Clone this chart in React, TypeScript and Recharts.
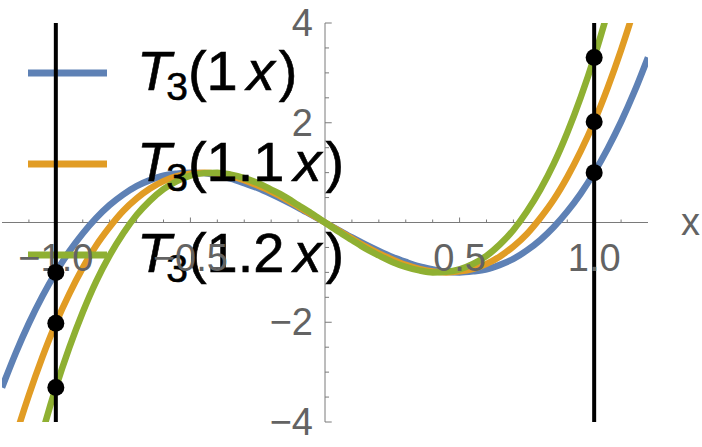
import {
  ComposedChart,
  Legend,
  Line,
  ReferenceDot,
  ReferenceLine,
  XAxis,
  YAxis,
} from "recharts";

// sample positions along x, and the three curves at those x
const X_VALUES = [
  -1.2, -1.15, -1.1, -1.05, -1.0, -0.95, -0.9, -0.85, -0.8, -0.75, -0.7, -0.65, -0.6, -0.55, -0.5,
  -0.45, -0.4, -0.35, -0.3, -0.25, -0.2, -0.15, -0.1, -0.05, 0, 0.05, 0.1, 0.15, 0.2, 0.25, 0.3,
  0.35, 0.4, 0.45, 0.5, 0.55, 0.6, 0.65, 0.7, 0.75, 0.8, 0.85, 0.9, 0.95, 1.0, 1.05, 1.1, 1.15, 1.2,
];

const T3_1X = [
  -3.31, -2.63, -2.02, -1.48, -1.0, -0.58, -0.22, 0.09, 0.35, 0.56, 0.73, 0.85, 0.94, 0.98, 1.0,
  0.99, 0.94, 0.88, 0.79, 0.69, 0.57, 0.44, 0.3, 0.15, 0, -0.15, -0.3, -0.44, -0.57, -0.69, -0.79,
  -0.88, -0.94, -0.99, -1.0, -0.98, -0.94, -0.85, -0.73, -0.56, -0.35, -0.09, 0.22, 0.58, 1.0, 1.48,
  2.02, 2.63, 3.31,
];

const T3_11X = [
  -5.24, -4.3, -3.46, -2.7, -2.02, -1.43, -0.91, -0.46, -0.09, 0.23, 0.48, 0.68, 0.83, 0.93, 0.98,
  1.0, 0.98, 0.93, 0.85, 0.74, 0.62, 0.48, 0.32, 0.16, 0, -0.16, -0.32, -0.48, -0.62, -0.74, -0.85,
  -0.93, -0.98, -1.0, -0.98, -0.93, -0.83, -0.68, -0.48, -0.23, 0.09, 0.46, 0.91, 1.43, 2.02, 2.7,
  3.46, 4.3, 5.24,
];

const T3_12X = [
  -7.62, -6.37, -5.24, -4.22, -3.31, -2.51, -1.8, -1.18, -0.66, -0.22, 0.15, 0.44, 0.67, 0.83, 0.94,
  0.99, 1.0, 0.96, 0.89, 0.79, 0.66, 0.52, 0.35, 0.18, 0, -0.18, -0.35, -0.52, -0.66, -0.79, -0.89,
  -0.96, -1.0, -0.99, -0.94, -0.83, -0.67, -0.44, -0.15, 0.22, 0.66, 1.18, 1.8, 2.51, 3.31, 4.22,
  5.24, 6.37, 7.62,
];

const SCALE_LABELS = ["1", "1.1", "1.2"];
const SERIES_KEYS = ["a", "b", "c"];
const SERIES_COLORS = ["#5E81B5", "#E19C24", "#8FB032"];

// black markers on the two vertical guide lines
const GUIDE_X = [-1, 1];
const DOTS_LEFT = [-1.0, -2.02, -3.31];
const DOTS_RIGHT = [1.0, 2.02, 3.31];

// ticks
const X_MAJOR = [-1, -0.5, 0.5, 1];
const X_MAJOR_LABELS = ["−1.0", "−0.5", "0.5", "1.0"];
const X_MINOR = [-1.1, -0.9, -0.8, -0.7, -0.6, -0.4, -0.3, -0.2, -0.1, 0.1, 0.2, 0.3, 0.4, 0.6, 0.7, 0.8, 0.9, 1.1];
const Y_MAJOR = [4, 2, -2, -4];
const Y_MAJOR_LABELS = ["4", "2", "−2", "−4"];
const Y_MINOR = [-3.5, -3, -2.5, -1.5, -1, -0.5, 0.5, 1, 1.5, 2.5, 3, 3.5];

const rows = X_VALUES.map((x, i) => ({ x, a: T3_1X[i], b: T3_11X[i], c: T3_12X[i] }));

const W = 702;
const H = 447;
const MARGIN = { top: 23, right: 54, bottom: 25, left: 2 };
const FONT = "'Liberation Sans', Arial, sans-serif";
const AXIS_GRAY = "#7a7a7a";
const LABEL_GRAY = "#636363";
const TICK_FONT = 38;

const layerStyle: React.CSSProperties = { position: "absolute", left: 0, top: 0 };

function renderLegend(props: any) {
  const payload = props.payload || [];
  return (
    <svg width={400} height={300} style={{ display: "block" }}>
      {payload.map((entry: any, i: number) => {
        const lineY = 73 + 91 * i;
        const base = 90 + 91 * i;
        return (
          <g key={i}>
            <line x1={28} x2={107} y1={lineY} y2={lineY} stroke={entry.color} strokeWidth={7} />
            <text
              x={137}
              y={base}
              fontSize={56}
              fill="#000"
              stroke="#000"
              strokeWidth={0.6}
              fontFamily={FONT}
            >
              <tspan fontStyle="italic">T</tspan>
              <tspan fontSize={39} dx={-5} dy={10}>3</tspan>
              <tspan dy={-10}>({entry.value}</tspan>
              <tspan fontStyle="italic" dx={9}>x</tspan>
              <tspan dx={4}>)</tspan>
            </text>
          </g>
        );
      })}
    </svg>
  );
}

export default function App() {
  return (
    <div style={{ position: "absolute", left: 0, top: 0, width: W, height: H, background: "#fff" }}>
      {/* bottom layer: axis lines and tick marks */}
      <div style={layerStyle}>
        <ComposedChart width={W} height={H} data={rows} margin={MARGIN}>
          <XAxis type="number" dataKey="x" domain={[-1.2, 1.2]} allowDataOverflow hide />
          <YAxis type="number" domain={[-4, 4]} allowDataOverflow hide />
          <ReferenceLine y={0} stroke={AXIS_GRAY} strokeWidth={1} />
          <ReferenceLine x={0} stroke={AXIS_GRAY} strokeWidth={1} />
          {X_MINOR.map((v) => (
            <ReferenceLine key={"xm" + v} segment={[{ x: v, y: 0 }, { x: v, y: 0.06 }]} stroke={AXIS_GRAY} />
          ))}
          {X_MAJOR.map((v) => (
            <ReferenceLine key={"xM" + v} segment={[{ x: v, y: 0 }, { x: v, y: 0.1 }]} stroke={AXIS_GRAY} />
          ))}
          {Y_MINOR.map((v) => (
            <ReferenceLine key={"ym" + v} segment={[{ x: 0, y: v }, { x: 0.015, y: v }]} stroke={AXIS_GRAY} />
          ))}
          {Y_MAJOR.map((v) => (
            <ReferenceLine key={"yM" + v} segment={[{ x: 0, y: v }, { x: 0.025, y: v }]} stroke={AXIS_GRAY} />
          ))}
        </ComposedChart>
      </div>

      {/* middle layer: the three curves and the legend */}
      <div style={layerStyle}>
        <ComposedChart width={W} height={H} data={rows} margin={MARGIN}>
          <XAxis type="number" dataKey="x" domain={[-1.2, 1.2]} allowDataOverflow hide />
          <YAxis type="number" domain={[-4, 4]} allowDataOverflow hide />
          {SERIES_KEYS.map((k, i) => (
            <Line
              key={k}
              dataKey={k}
              name={SCALE_LABELS[i]}
              type="monotone"
              stroke={SERIES_COLORS[i]}
              strokeWidth={6.5}
              dot={false}
              isAnimationActive={false}
            />
          ))}
          <Legend
            layout="vertical"
            align="center"
            verticalAlign="middle"
            wrapperStyle={{ left: 0, top: 0, width: 400, height: 300 }}
            content={renderLegend}
          />
        </ComposedChart>
      </div>

      {/* top layer: tick labels, guide lines, markers */}
      <div style={layerStyle}>
        <ComposedChart width={W} height={H} data={rows} margin={MARGIN}>
          <XAxis type="number" dataKey="x" domain={[-1.2, 1.2]} allowDataOverflow hide />
          <YAxis type="number" domain={[-4, 4]} allowDataOverflow hide />
          {X_MAJOR.map((v, i) => (
            <ReferenceDot
              key={"xl" + v}
              x={v}
              y={0}
              r={0}
              shape={(p: any) => (
                <text x={p.cx} y={p.cy + 48} textAnchor="middle" fontSize={TICK_FONT} fill={LABEL_GRAY} fontFamily={FONT}>
                  {X_MAJOR_LABELS[i]}
                </text>
              )}
            />
          ))}
          {Y_MAJOR.map((v, i) => (
            <ReferenceDot
              key={"yl" + v}
              x={0}
              y={v}
              r={0}
              shape={(p: any) => (
                <text x={p.cx - 12} y={p.cy + 13} textAnchor="end" fontSize={TICK_FONT} fill={LABEL_GRAY} fontFamily={FONT}>
                  {Y_MAJOR_LABELS[i]}
                </text>
              )}
            />
          ))}
          <ReferenceDot
            x={1.2}
            y={0}
            r={0}
            shape={(p: any) => (
              <text x={p.cx + 33} y={p.cy + 12} fontSize={TICK_FONT} fill={LABEL_GRAY} fontFamily={FONT}>
                x
              </text>
            )}
          />
          {GUIDE_X.map((v) => (
            <ReferenceLine key={"g" + v} x={v} stroke="#000" strokeWidth={4} />
          ))}
          {DOTS_LEFT.map((v) => (
            <ReferenceDot key={"dl" + v} x={-1} y={v} r={8.5} fill="#000" stroke="none" />
          ))}
          {DOTS_RIGHT.map((v) => (
            <ReferenceDot key={"dr" + v} x={1} y={v} r={8.5} fill="#000" stroke="none" />
          ))}
        </ComposedChart>
      </div>
    </div>
  );
}
